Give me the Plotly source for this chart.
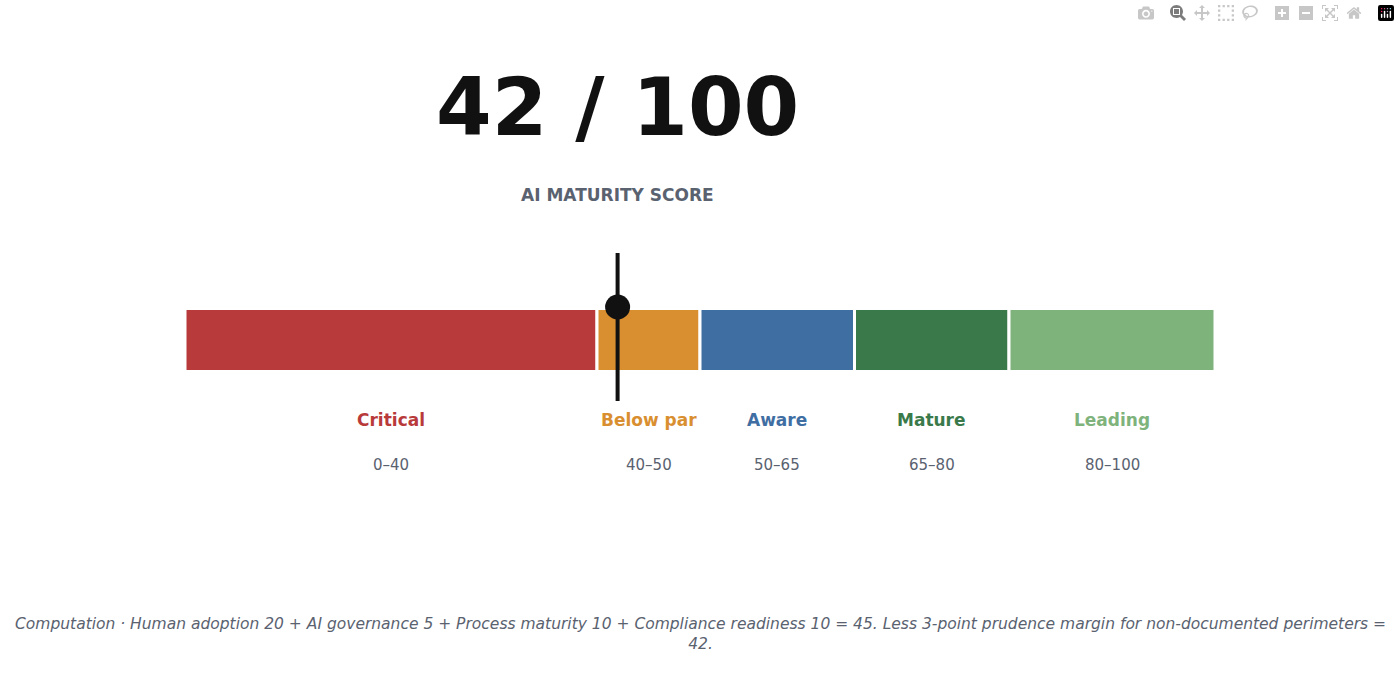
import plotly.graph_objects as go

names = ["Critical", "Below par", "Aware", "Mature", "Leading"]
starts = [0, 40, 50, 65, 80]
ends = [40, 50, 65, 80, 100]
ranges = ["0–40", "40–50", "50–65", "65–80", "80–100"]
colors = ["#b83a3a", "#d98f30", "#3f6ea3", "#3a7a4a", "#7fb37c"]
score = 42
footnote = ("Computation · Human adoption 20 + AI governance 5 + Process maturity 10 + "
            "Compliance readiness 10 = 45. Less 3-point prudence margin for non-documented perimeters =<br>42.")

fig = go.Figure()
for n, s, e, c in zip(names, starts, ends, colors):
    fig.add_trace(go.Bar(x=[e - s], base=[s], y=[340], width=63, orientation="h",
                         marker=dict(color=c, line=dict(color="white", width=3)),
                         hoverinfo="skip", showlegend=False))
fig.add_trace(go.Scatter(x=[score, score], y=[253, 401], mode="lines",
                         line=dict(color="#111111", width=4), showlegend=False))
fig.add_trace(go.Scatter(x=[score], y=[307], mode="markers",
                         marker=dict(color="#111111", size=25), showlegend=False))

ann = []
ann.append(dict(x=score, y=107, text="<b>%d / 100</b>" % score, showarrow=False,
                font=dict(size=80, color="#111111", family="DejaVu Sans")))
ann.append(dict(x=score, y=195, text="<b>AI MATURITY SCORE</b>", showarrow=False,
                font=dict(size=17, color="#5a6270", family="DejaVu Sans")))
for n, s, e, c, r in zip(names, starts, ends, colors, ranges):
    m = (s + e) / 2
    ann.append(dict(x=m, y=420, text="<b>%s</b>" % n, showarrow=False,
                    font=dict(size=17, color=c, family="DejaVu Sans")))
    ann.append(dict(x=m, y=465, text=r, showarrow=False,
                    font=dict(size=15, color="#5a6270", family="DejaVu Sans")))
ann.append(dict(x=0.5, xref="paper", y=634, text="<i>%s</i>" % footnote, showarrow=False,
                font=dict(size=15.5, color="#5a6270", family="DejaVu Sans")))

fig.update_layout(
    width=1400, height=680, margin=dict(l=0, r=0, t=0, b=0),
    plot_bgcolor="white", paper_bgcolor="white", barmode="overlay",
    xaxis=dict(range=[0, 100], domain=[185/1400, 1215/1400], visible=False),
    yaxis=dict(range=[680, 0], visible=False),
    annotations=ann,
)
fig.write_html("out.html", post_script="document.body.style.margin='0';document.body.style.overflow='hidden';")
